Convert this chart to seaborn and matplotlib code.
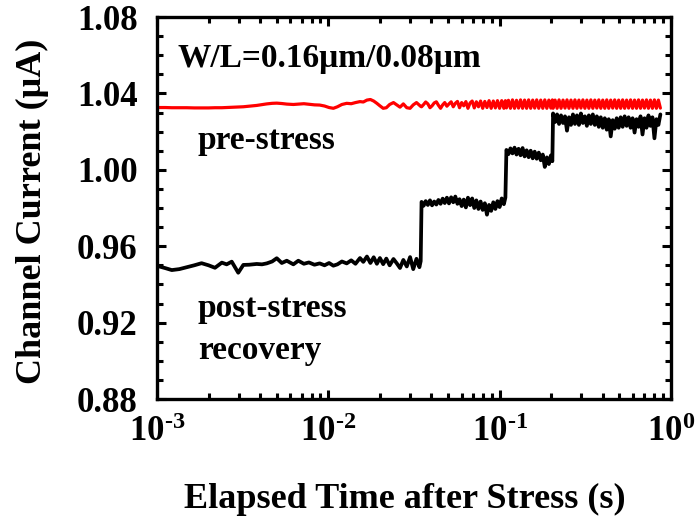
import matplotlib
matplotlib.use("Agg")
import matplotlib.pyplot as plt
import matplotlib.ticker as mticker
import seaborn as sns
import pandas as pd

# ---------------- data ----------------
time_s = [
    # before first step
    0.00100, 0.00104, 0.00112, 0.00122, 0.00135, 0.00149, 0.00165, 0.00182, 0.00200, 0.00218,
    0.00239, 0.00255, 0.00273, 0.00298, 0.00319, 0.00345, 0.00382, 0.00410, 0.00437, 0.00470,
    0.00500, 0.00535, 0.00572, 0.00625, 0.00668, 0.0072, 0.0077, 0.0083, 0.0089, 0.0095,
    0.0101, 0.0107, 0.0113, 0.0120, 0.0128, 0.0136, 0.0144, 0.0153, 0.0160, 0.0168,
    0.0176, 0.0184, 0.0192, 0.0200, 0.0209, 0.0218, 0.0228, 0.0240, 0.0251, 0.0262,
    0.0274, 0.0287, 0.0300, 0.0313, 0.0327, 0.0340, 0.0346,
    # second level
    0.0350, 0.0360, 0.0370, 0.0381, 0.0392, 0.0403, 0.0415, 0.0427, 0.0439, 0.0452,
    0.0465, 0.0478, 0.0492, 0.0506, 0.0521, 0.0536, 0.0551, 0.0567, 0.0583, 0.0600,
    0.0617, 0.0635, 0.0653, 0.0672, 0.0691, 0.0711, 0.0731, 0.0752, 0.0774, 0.0796,
    0.0819, 0.0843, 0.0867, 0.0892, 0.0918, 0.0944, 0.0971, 0.0999, 0.1028, 0.1058,
    0.1080,
    # third level
    0.1095, 0.1125, 0.1156, 0.1188, 0.1221, 0.1254, 0.1289, 0.1324, 0.1361, 0.1398,
    0.1437, 0.1476, 0.1517, 0.1559, 0.1601, 0.1645, 0.1691, 0.1737, 0.1785, 0.1834,
    0.1885, 0.1937, 0.1990, 0.2030,
    # fourth level
    0.2050, 0.2106, 0.2163, 0.2221, 0.2281, 0.2343, 0.2406, 0.2471, 0.2538, 0.2607,
    0.2678, 0.2750, 0.2825, 0.2901, 0.2980, 0.3060, 0.3143, 0.3228, 0.3316, 0.3405,
    0.3498, 0.3592, 0.3690, 0.3789, 0.3892, 0.3997, 0.4106, 0.4217, 0.4331, 0.4448,
    0.4569, 0.4692, 0.4819, 0.4950, 0.5084, 0.5221, 0.5363, 0.5508, 0.5657, 0.5810,
    0.5967, 0.6129, 0.6294, 0.6465, 0.6640, 0.6819, 0.7004, 0.7193, 0.7388, 0.7587,
    0.7793, 0.8004, 0.8220, 0.8443, 0.8670,
]

current_post = [
    0.9496, 0.9493, 0.9485, 0.9475, 0.9480, 0.9490, 0.9500, 0.9511, 0.9500, 0.9487,
    0.9514, 0.9505, 0.9519, 0.9461, 0.9502, 0.9503, 0.9507, 0.9505, 0.9510, 0.9520,
    0.9537, 0.9512, 0.9524, 0.9505, 0.9524, 0.9508, 0.9515, 0.9503, 0.9510, 0.9500,
    0.9512, 0.9498, 0.9505, 0.9520, 0.9510, 0.9526, 0.9508, 0.9538, 0.9518, 0.9546,
    0.9512, 0.9542, 0.9508, 0.9538, 0.9506, 0.9535, 0.9500, 0.9533, 0.9510, 0.9486,
    0.9528, 0.9494, 0.9543, 0.9480, 0.9534, 0.9490, 0.9522,
    0.9832, 0.9812, 0.9836, 0.9816, 0.9840, 0.9814, 0.9834, 0.9818, 0.9842, 0.9822,
    0.9849, 0.9826, 0.9854, 0.9824, 0.9856, 0.9830, 0.9860, 0.9822, 0.9846, 0.9810,
    0.9844, 0.9803, 0.9854, 0.9815, 0.9850, 0.9800, 0.9840, 0.9795, 0.9834, 0.9790,
    0.9825, 0.9765, 0.9816, 0.9785, 0.9830, 0.9795, 0.9836, 0.9805, 0.9850, 0.9820,
    0.9855,
    1.0104, 1.0082, 1.0112, 1.0086, 1.0116, 1.0080, 1.0110, 1.0076, 1.0114, 1.0070,
    1.0102, 1.0066, 1.0100, 1.0060, 1.0095, 1.0058, 1.0090, 1.0050, 1.0080, 1.0015,
    1.0065, 1.0030, 1.0075, 1.0045,
    1.0295, 1.0250, 1.0290, 1.0240, 1.0285, 1.0245, 1.0280, 1.0205, 1.0275, 1.0235,
    1.0290, 1.0240, 1.0285, 1.0235, 1.0295, 1.0245, 1.0280, 1.0230, 1.0285, 1.0240,
    1.0290, 1.0235, 1.0280, 1.0225, 1.0275, 1.0220, 1.0270, 1.0210, 1.0265, 1.0175,
    1.0260, 1.0215, 1.0270, 1.0220, 1.0275, 1.0225, 1.0280, 1.0230, 1.0275, 1.0220,
    1.0270, 1.0195, 1.0265, 1.0225, 1.0280, 1.0185, 1.0270, 1.0220, 1.0285, 1.0230,
    1.0275, 1.0165, 1.0265, 1.0235, 1.0290,
]

current_pre = [
    1.0326, 1.0326, 1.0326, 1.0325, 1.0325, 1.0325, 1.0324, 1.0324, 1.0324, 1.0325,
    1.0325, 1.0326, 1.0327, 1.0328, 1.0330, 1.0333, 1.0337, 1.0341, 1.0345, 1.0348,
    1.0349, 1.0347, 1.0344, 1.0342, 1.0344, 1.0346, 1.0343, 1.0340, 1.0339, 1.0334,
    1.0326, 1.0322, 1.0330, 1.0342, 1.0348, 1.0346, 1.0352, 1.0357, 1.0355, 1.0365,
    1.0368, 1.0360, 1.0348, 1.0335, 1.0322, 1.0325, 1.0342, 1.0352, 1.0340, 1.0328,
    1.0345, 1.0325, 1.0322, 1.0340, 1.0352, 1.0338, 1.0332,
    1.0330, 1.0342, 1.0355, 1.0345, 1.0325, 1.0335, 1.0350, 1.0356, 1.0338, 1.0322,
    1.0340, 1.0352, 1.0333, 1.0345, 1.0356, 1.0330, 1.0348, 1.0358, 1.0325, 1.0352,
    1.0335, 1.0357, 1.0322, 1.0350, 1.0360, 1.0324, 1.0356, 1.0330, 1.0360, 1.0322,
    1.0358, 1.0326, 1.0362, 1.0322, 1.0360, 1.0324, 1.0362, 1.0322, 1.0362, 1.0322,
    1.0362,
    1.0324, 1.0364, 1.0322, 1.0366, 1.0322, 1.0364, 1.0323, 1.0366, 1.0322, 1.0365,
    1.0322, 1.0366, 1.0322, 1.0365, 1.0323, 1.0366, 1.0322, 1.0365, 1.0322, 1.0366,
    1.0322, 1.0365, 1.0323, 1.0366,
    1.0322, 1.0365, 1.0322, 1.0366, 1.0322, 1.0365, 1.0323, 1.0366, 1.0322, 1.0365,
    1.0322, 1.0366, 1.0322, 1.0365, 1.0323, 1.0366, 1.0322, 1.0365, 1.0322, 1.0366,
    1.0322, 1.0365, 1.0323, 1.0366, 1.0322, 1.0365, 1.0322, 1.0366, 1.0322, 1.0365,
    1.0323, 1.0366, 1.0322, 1.0365, 1.0322, 1.0366, 1.0322, 1.0365, 1.0323, 1.0366,
    1.0322, 1.0365, 1.0322, 1.0366, 1.0322, 1.0365, 1.0323, 1.0366, 1.0322, 1.0365,
    1.0322, 1.0366, 1.0322, 1.0365, 1.0323,
]

y_ticks = [0.88, 0.92, 0.96, 1.00, 1.04, 1.08]
y_tick_labels = ["0.88", "0.92", "0.96", "1.00", "1.04", "1.08"]
x_ticks = [1e-3, 1e-2, 1e-1, 1e0]
x_tick_exponents = ["-3", "-2", "-1", "0"]

series_names = ["post-stress", "pre-stress"]
series_colors = {"post-stress": "black", "pre-stress": "#ff0000"}
series_widths = {"post-stress": 2.7, "pre-stress": 2.3}

# ---------------- style ----------------
sns.set_theme(style="ticks")
plt.rcParams["font.family"] = ["Liberation Serif", "DejaVu Serif"]
plt.rcParams["font.weight"] = "bold"
plt.rcParams["mathtext.fontset"] = "custom"
plt.rcParams["mathtext.rm"] = "Liberation Serif:bold"
plt.rcParams["mathtext.bf"] = "Liberation Serif:bold"
plt.rcParams["mathtext.it"] = "Liberation Serif:bold:italic"
plt.rcParams["axes.axisbelow"] = False
for key in ["text.color", "axes.labelcolor", "xtick.color", "ytick.color", "axes.edgecolor"]:
    plt.rcParams[key] = "black"

assert len(time_s) == len(current_post) == len(current_pre)

df = pd.concat([
    pd.DataFrame({"time": time_s, "current": current_post, "series": series_names[0]}),
    pd.DataFrame({"time": time_s, "current": current_pre, "series": series_names[1]}),
], ignore_index=True)

W, H = 696, 519
fig = plt.figure(figsize=(W / 100, H / 100), dpi=100)
ax = fig.add_axes([157 / W, 1 - 399 / H, 514 / W, 382 / H])
ax.set_axisbelow(False)

sns.lineplot(data=df, x="time", y="current", hue="series", palette=series_colors,
             estimator=None, sort=False, legend=False, linewidth=2.5, ax=ax)
for line, name in zip(ax.get_lines(), series_names):
    line.set_linewidth(series_widths[name])
    line.set_solid_joinstyle("round")

ax.set_xscale("log")
ax.set_xlim(1e-3, 1.0)
ax.set_ylim(0.88, 1.08)


def make_xlabels(use_text):
    if use_text:
        return [r"$\mathbf{10^{\text{%s}}}$" % e for e in x_tick_exponents]
    return [r"$\mathbf{10^{%s}}$" % e for e in x_tick_exponents]


ax.set_xticks(x_ticks)
ax.set_xticklabels(make_xlabels(True))
try:
    fig.canvas.draw()
except Exception:
    ax.set_xticklabels(make_xlabels(False))

ax.xaxis.set_minor_locator(mticker.LogLocator(base=10, subs=[2, 3, 4, 5, 6, 7, 8, 9]))
ax.xaxis.set_minor_formatter(mticker.NullFormatter())
ax.set_yticks(y_ticks)
ax.set_yticklabels(y_tick_labels)
ax.yaxis.set_minor_locator(mticker.MultipleLocator(0.01))

for sp in ax.spines.values():
    sp.set_linewidth(2.4)
    sp.set_color("black")
    sp.set_visible(True)

ax.tick_params(which="both", direction="in", top=True, right=True, color="black", width=2.2)
ax.tick_params(which="major", length=6.5, labelsize=25, pad=14, labelcolor="black")
ax.tick_params(which="minor", length=4.5)
ax.tick_params(axis="x", which="major", pad=12)
for lab in ax.get_xticklabels() + ax.get_yticklabels():
    lab.set_fontweight("bold")

ax.set_xlabel("Elapsed Time after Stress (s)", fontsize=26, fontweight="bold", color="black")
ax.set_ylabel("Channel Current (\u03bcA)", fontsize=26, fontweight="bold", color="black")
ax.xaxis.set_label_coords((405 - 157) / 514, (399 - 483) / 382)
ax.yaxis.set_label_coords((49 - 157) / 514, (399 - 211) / 382)

ax.text((178 - 157) / 514, (399 - 58) / 382, "W/L=0.16\u03bcm/0.08\u03bcm", transform=ax.transAxes,
        ha="left", va="center", fontsize=24, fontweight="bold", color="black")
ax.text((198 - 157) / 514, (399 - 140) / 382, "pre-stress", transform=ax.transAxes,
        ha="left", va="center", fontsize=24, fontweight="bold", color="black")
ax.text((198 - 157) / 514, (399 - 308) / 382, "post-stress", transform=ax.transAxes,
        ha="left", va="center", fontsize=24, fontweight="bold", color="black")
ax.text((198 - 157) / 514, (399 - 350) / 382, "recovery", transform=ax.transAxes,
        ha="left", va="center", fontsize=24, fontweight="bold", color="black")

fig.savefig("out.png", dpi=100)
